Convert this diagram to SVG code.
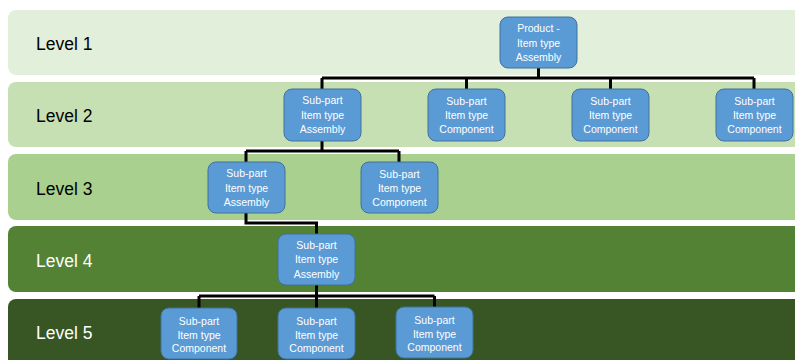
<svg xmlns="http://www.w3.org/2000/svg" width="795" height="360" viewBox="0 0 795 360">
  <style>
    .band-label { font-family: "Liberation Sans", Arial, sans-serif; font-size: 17.5px; }
    .dark { fill: #000000; }
    .light { fill: #ffffff; }
    .node rect { fill: #5B9BD5; stroke: #41719C; stroke-width: 1; }
    .node text { font-family: "Liberation Sans", Arial, sans-serif; font-size: 10.5px; fill: #ffffff; text-anchor: middle; }
    .conn { fill: none; stroke: #000000; stroke-width: 3; stroke-linejoin: miter; }
  </style>
  <rect width="795" height="360" fill="#ffffff"/>

  <!-- level bands -->
  <g id="bands">
    <rect x="8" y="10" width="800" height="65" rx="8" fill="#E2EFDA"/>
    <rect x="8" y="82" width="800" height="65" rx="8" fill="#C6E0B4"/>
    <rect x="8" y="154" width="800" height="66" rx="8" fill="#A9D08E"/>
    <rect x="8" y="226" width="800" height="66" rx="8" fill="#548235"/>
    <rect x="8" y="299" width="800" height="70" rx="8" fill="#375623"/>
    <text class="band-label dark" x="36" y="50">Level 1</text>
    <text class="band-label dark" x="36" y="122">Level 2</text>
    <text class="band-label dark" x="36" y="194.5">Level 3</text>
    <text class="band-label light" x="36" y="266.5">Level 4</text>
    <text class="band-label light" x="36" y="339">Level 5</text>
  </g>

  <!-- connectors -->
  <g id="connectors" class="conn">
    <path d="M538.5 68 V78 M322 78 H754 M322 78 V89 M466.5 78 V89 M610.5 78 V89 M754 78 V89"/>
    <path d="M322 141 V151 M246 151 H399 M246 151 V162 M399 151 V162"/>
    <path d="M246 213 V223 H316.5 V234"/>
    <path d="M316.5 285 V296 M199 296 H434.5 M199 296 V308 M316.5 296 V308 M434.5 296 V308"/>
  </g>

  <!-- level 1 -->
  <g id="product" class="node">
    <rect x="500" y="17" width="77" height="51" rx="8"/>
    <text x="538.5" y="32">Product -</text>
    <text x="538.5" y="46.5">Item type</text>
    <text x="538.5" y="61">Assembly</text>
  </g>

  <!-- level 2 -->
  <g id="l2-assembly" class="node">
    <rect x="284" y="89" width="77" height="52" rx="8"/>
    <text x="322.5" y="104">Sub-part</text>
    <text x="322.5" y="118.5">Item type</text>
    <text x="322.5" y="133">Assembly</text>
  </g>
  <g id="l2-component-1" class="node">
    <rect x="428" y="89" width="77" height="52" rx="8"/>
    <text x="466.5" y="105">Sub-part</text>
    <text x="466.5" y="119">Item type</text>
    <text x="466.5" y="133">Component</text>
  </g>
  <g id="l2-component-2" class="node">
    <rect x="572" y="89" width="77" height="52" rx="8"/>
    <text x="610.5" y="105">Sub-part</text>
    <text x="610.5" y="119">Item type</text>
    <text x="610.5" y="133">Component</text>
  </g>
  <g id="l2-component-3" class="node">
    <rect x="716" y="89" width="77" height="52" rx="8"/>
    <text x="754.5" y="105">Sub-part</text>
    <text x="754.5" y="119">Item type</text>
    <text x="754.5" y="133">Component</text>
  </g>

  <!-- level 3 -->
  <g id="l3-assembly" class="node">
    <rect x="208" y="162" width="77" height="51" rx="8"/>
    <text x="246.5" y="177">Sub-part</text>
    <text x="246.5" y="191.5">Item type</text>
    <text x="246.5" y="206">Assembly</text>
  </g>
  <g id="l3-component" class="node">
    <rect x="361" y="162" width="77" height="51" rx="8"/>
    <text x="399.5" y="177.5">Sub-part</text>
    <text x="399.5" y="191.5">Item type</text>
    <text x="399.5" y="205.5">Component</text>
  </g>

  <!-- level 4 -->
  <g id="l4-assembly" class="node">
    <rect x="278" y="234" width="77" height="51" rx="8"/>
    <text x="316.5" y="248.5">Sub-part</text>
    <text x="316.5" y="263">Item type</text>
    <text x="316.5" y="277.5">Assembly</text>
  </g>

  <!-- level 5 -->
  <g id="l5-component-1" class="node">
    <rect x="161" y="308" width="76" height="51" rx="8"/>
    <text x="199" y="325">Sub-part</text>
    <text x="199" y="338.5">Item type</text>
    <text x="199" y="352">Component</text>
  </g>
  <g id="l5-component-2" class="node">
    <rect x="278" y="308" width="77" height="51" rx="8"/>
    <text x="316.5" y="325">Sub-part</text>
    <text x="316.5" y="338.5">Item type</text>
    <text x="316.5" y="352">Component</text>
  </g>
  <g id="l5-component-3" class="node">
    <rect x="396" y="307" width="77" height="51" rx="8"/>
    <text x="434.5" y="324">Sub-part</text>
    <text x="434.5" y="337.5">Item type</text>
    <text x="434.5" y="351">Component</text>
  </g>
</svg>
